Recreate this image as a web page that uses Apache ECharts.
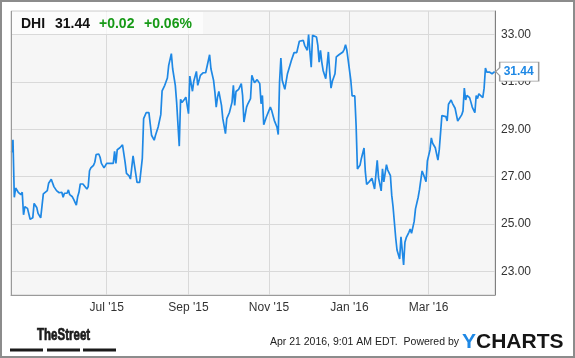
<!DOCTYPE html>
<html>
<head>
<meta charset="utf-8">
<script src="https://cdn.jsdelivr.net/npm/echarts@6/dist/echarts.min.js"></script>
<style>
html,body{margin:0;padding:0;background:#fff;}
#chart{width:575px;height:358px;}
</style>
</head>
<body>
<div id="chart"></div>
<script>
// ---------- data ----------
const ticker = 'DHI';
const lastPrice = '31.44';
const changeAbs = '+0.02';
const changePct = '+0.06%';
const timestampText = 'Apr 21 2016, 9:01 AM EDT.  Powered by';

const dates = [
'2015-04-20','2015-04-21','2015-04-22','2015-04-23','2015-04-25','2015-04-26','2015-04-27','2015-04-28','2015-04-29','2015-04-30',
'2015-05-02','2015-05-03','2015-05-04','2015-05-06','2015-05-07','2015-05-09','2015-05-10','2015-05-11','2015-05-12','2015-05-14',
'2015-05-15','2015-05-17','2015-05-18','2015-05-20','2015-05-21','2015-05-22','2015-05-24','2015-05-26','2015-05-27','2015-05-28',
'2015-05-29','2015-05-30','2015-05-31','2015-06-01','2015-06-02','2015-06-03','2015-06-05','2015-06-06','2015-06-08','2015-06-09',
'2015-06-10','2015-06-11','2015-06-13','2015-06-14','2015-06-16','2015-06-17','2015-06-18','2015-06-19','2015-06-21','2015-06-22',
'2015-06-23','2015-06-24','2015-06-25','2015-06-26','2015-06-27','2015-06-29','2015-06-30','2015-07-01','2015-07-03','2015-07-06',
'2015-07-07','2015-07-08','2015-07-09','2015-07-11','2015-07-12','2015-07-13','2015-07-15','2015-07-16','2015-07-18','2015-07-19',
'2015-07-20','2015-07-21','2015-07-22','2015-07-24','2015-07-26','2015-07-28','2015-07-29','2015-07-31','2015-08-02','2015-08-04',
'2015-08-06','2015-08-07','2015-08-09','2015-08-11','2015-08-12','2015-08-13','2015-08-14','2015-08-16','2015-08-17','2015-08-19',
'2015-08-20','2015-08-22','2015-08-23','2015-08-25','2015-08-26','2015-08-27','2015-08-29','2015-08-30','2015-09-01','2015-09-02',
'2015-09-04','2015-09-05','2015-09-07','2015-09-08','2015-09-09','2015-09-10','2015-09-12','2015-09-14','2015-09-15','2015-09-17',
'2015-09-18','2015-09-20','2015-09-21','2015-09-22','2015-09-23','2015-09-24','2015-09-26','2015-09-27','2015-09-29','2015-09-30',
'2015-10-02','2015-10-04','2015-10-05','2015-10-06','2015-10-07','2015-10-09','2015-10-11','2015-10-12','2015-10-13','2015-10-15',
'2015-10-16','2015-10-18','2015-10-19','2015-10-20','2015-10-21','2015-10-23','2015-10-25','2015-10-26','2015-10-27','2015-10-28',
'2015-10-30','2015-11-02','2015-11-03','2015-11-05','2015-11-06','2015-11-07','2015-11-08','2015-11-09','2015-11-10','2015-11-11',
'2015-11-13','2015-11-14','2015-11-15','2015-11-16','2015-11-18','2015-11-20','2015-11-22','2015-11-24','2015-11-25','2015-11-27',
'2015-11-28','2015-11-30','2015-12-01','2015-12-02','2015-12-03','2015-12-04','2015-12-05','2015-12-07','2015-12-08','2015-12-09',
'2015-12-10','2015-12-11','2015-12-12','2015-12-14','2015-12-15','2015-12-16','2015-12-17','2015-12-18','2015-12-19','2015-12-21',
'2015-12-22','2015-12-24','2015-12-27','2015-12-28','2015-12-29','2015-12-30','2015-12-31','2016-01-02','2016-01-03','2016-01-05',
'2016-01-06','2016-01-07','2016-01-09','2016-01-10','2016-01-12','2016-01-13','2016-01-14','2016-01-16','2016-01-18','2016-01-20',
'2016-01-22','2016-01-23','2016-01-25','2016-01-26','2016-01-27','2016-01-29','2016-01-30','2016-02-01','2016-02-02','2016-02-03',
'2016-02-04','2016-02-05','2016-02-06','2016-02-08','2016-02-09','2016-02-11','2016-02-12','2016-02-13','2016-02-15','2016-02-16',
'2016-02-17','2016-02-19','2016-02-20','2016-02-22','2016-02-23','2016-02-25','2016-02-26','2016-02-28','2016-02-29','2016-03-02',
'2016-03-03','2016-03-04','2016-03-06','2016-03-08','2016-03-09','2016-03-10','2016-03-11','2016-03-12','2016-03-14','2016-03-15',
'2016-03-16','2016-03-18','2016-03-19','2016-03-21','2016-03-23','2016-03-24','2016-03-26','2016-03-27','2016-03-28','2016-03-29',
'2016-03-30','2016-04-01','2016-04-02','2016-04-03','2016-04-05','2016-04-06','2016-04-07','2016-04-08','2016-04-09','2016-04-11',
'2016-04-12','2016-04-13','2016-04-14','2016-04-16','2016-04-17','2016-04-18','2016-04-20'
];

const prices = [
28.03,28.56,26.13,26.52,26.34,26.41,26.24,26.34,25.39,25.73,
25.66,25.59,25.20,25.26,25.87,25.70,25.45,25.39,25.26,26.27,
26.32,26.41,26.72,26.89,26.86,26.58,26.41,26.32,26.24,26.34,
26.13,26.30,26.38,26.30,26.44,26.24,26.15,26.04,25.80,26.15,
26.34,26.69,26.69,26.66,26.48,26.58,27.25,27.37,27.48,27.61,
27.93,27.90,27.96,27.82,27.56,27.37,27.31,27.56,27.56,27.56,
28.07,27.56,28.14,28.22,28.25,28.34,27.59,27.14,27.03,26.90,
26.86,27.88,27.50,26.76,26.76,27.77,29.45,29.71,29.71,28.75,
28.54,28.75,29.10,29.62,30.63,30.63,30.86,31.17,31.70,32.20,
31.56,30.86,30.15,28.29,30.27,30.13,30.27,30.36,29.66,31.25,
30.61,31.03,31.45,30.86,30.79,31.28,31.39,31.39,31.31,32.15,
31.56,31.07,30.57,29.94,30.36,30.60,30.01,29.45,28.82,29.45,
29.71,30.15,30.86,30.01,30.60,30.69,30.93,30.43,29.31,29.94,
30.08,30.30,31.28,31.35,30.97,31.10,30.93,30.08,30.43,29.19,
29.52,29.94,29.80,29.38,29.34,29.10,28.78,31.00,32.01,31.07,
30.69,31.03,31.35,31.31,31.92,32.24,32.24,32.72,32.76,32.76,
32.55,32.34,33.00,32.27,31.63,32.97,32.97,32.90,32.55,31.84,
32.34,31.84,31.49,31.14,31.70,32.27,31.42,30.74,31.03,31.35,
32.06,32.15,32.27,32.38,32.58,32.34,31.92,31.07,30.41,30.41,
29.17,27.32,27.49,27.77,28.21,27.20,26.67,26.79,26.93,26.48,
27.69,26.95,26.40,27.33,26.78,27.51,27.28,27.04,26.22,25.73,
25.69,24.42,23.90,23.52,24.46,23.27,24.23,24.42,24.65,24.79,
24.61,25.11,25.64,26.12,26.44,27.24,27.10,26.79,27.66,28.13,
28.64,28.41,28.22,27.70,28.13,28.06,29.58,29.54,29.54,29.35,
30.06,30.24,30.10,29.89,29.35,29.44,29.61,29.78,30.74,30.24,
30.43,30.34,30.15,29.94,29.70,30.43,30.30,30.50,30.43,30.34,
30.74,31.59,31.42,31.42,31.42,31.35,31.44
];

const yTicks = [23, 25, 27, 29, 31, 33];
const xTickDates = ['2015-07-01', '2015-09-01', '2015-11-01', '2016-01-01', '2016-03-01'];
const xRange = ['2015-04-19T12:00', '2016-04-20T06:00'];
const monthNames = ['Jan','Feb','Mar','Apr','May','Jun','Jul','Aug','Sep','Oct','Nov','Dec'];

// ---------- chart ----------
function toTime(s) {
  const [datePart, timePart] = s.split('T');
  const [y, m, d] = datePart.split('-').map(Number);
  let hh = 0, mm = 0;
  if (timePart) { [hh, mm] = timePart.split(':').map(Number); }
  return new Date(y, m - 1, d, hh, mm).getTime();
}
const seriesData = dates.map((d, i) => [toTime(d), prices[i]]);
const xTicks = xTickDates.map(toTime);
const lastPoint = seriesData[seriesData.length - 1];
const FONT = '"Liberation Sans", Arial, sans-serif';

const chart = echarts.init(document.getElementById('chart'), null, {renderer: 'canvas'});

chart.setOption({
  animation: false,
  backgroundColor: '#ffffff',
  grid: {
    left: 11, right: 80, top: 11, bottom: 63,
    show: true, backgroundColor: '#f6f6f6', borderColor: '#cfcfcf', borderWidth: 1
  },
  xAxis: {
    type: 'value',
    min: toTime(xRange[0]),
    max: toTime(xRange[1]),
    axisLine: {show: true, onZero: false, lineStyle: {color: '#9a9a9a', width: 1}},
    axisTick: {show: false, customValues: xTicks},
    splitLine: {show: true, lineStyle: {color: '#d9d9d9', width: 1}},
    axisLabel: {
      customValues: xTicks,
      color: '#333', fontSize: 12, fontFamily: FONT, margin: 7,
      formatter: function (v) {
        const d = new Date(v);
        return monthNames[d.getMonth()] + " '" + String(d.getFullYear()).slice(2);
      }
    }
  },
  yAxis: {
    type: 'value',
    position: 'right',
    min: 22, max: 34,
    axisLine: {show: true, onZero: false, lineStyle: {color: '#808080', width: 1}},
    axisTick: {show: false, customValues: yTicks},
    splitLine: {show: true, lineStyle: {color: '#d9d9d9', width: 1}},
    axisLabel: {
      customValues: yTicks,
      color: '#333', fontSize: 12, fontFamily: FONT, margin: 6,
      formatter: function (v) { return Number(v).toFixed(2); }
    }
  },
  series: [{
    type: 'line',
    data: seriesData,
    showSymbol: false,
    lineStyle: {color: '#1e88e5', width: 1.7},
    itemStyle: {color: '#1e88e5'},
    markPoint: {
      silent: true,
      data: [{
        coord: lastPoint,
        symbol: 'path://M0,9.5L4,5.5L4,0L43,0L43,19L4,19L4,13.5Z',
        symbolSize: [43, 19],
        symbolOffset: [22.5, 0],
        itemStyle: {color: '#ffffff', borderColor: '#9a9a9a', borderWidth: 1},
        label: {
          show: true, position: 'inside', offset: [1.5, 0],
          formatter: lastPrice,
          color: '#1e88e5', fontSize: 12, fontWeight: 'bold', fontFamily: FONT
        }
      }]
    }
  }],
  graphic: [
    {type: 'line', shape: {x1: 11.5, y1: 11, x2: 11.5, y2: 295}, style: {stroke: '#9a9a9a', lineWidth: 1}, z: 90, silent: true},
    {type: 'rect', shape: {x: 12, y: 12, width: 191, height: 22}, style: {fill: 'rgba(255,255,255,0.7)'}, z: 80, silent: true},
    {type: 'text', x: 21, y: 24, z: 90, style: {text: ticker, font: 'bold 14px ' + FONT, fill: '#111', verticalAlign: 'middle'}},
    {type: 'text', x: 55, y: 24, z: 90, style: {text: lastPrice, font: 'bold 14px ' + FONT, fill: '#111', verticalAlign: 'middle'}},
    {type: 'text', x: 99, y: 24, z: 90, style: {text: changeAbs, font: 'bold 14px ' + FONT, fill: '#179a17', verticalAlign: 'middle'}},
    {type: 'text', x: 144, y: 24, z: 90, style: {text: changePct, font: 'bold 14px ' + FONT, fill: '#179a17', verticalAlign: 'middle'}},
    {type: 'text', x: 37, y: 335.5, scaleX: 0.72, z: 90, style: {text: 'TheStreet', font: 'bold 16px ' + FONT, fill: '#1a1a1a', stroke: '#1a1a1a', lineWidth: 0.7, verticalAlign: 'middle'}},
    {type: 'rect', shape: {x: 10, y: 348.5, width: 33, height: 3}, style: {fill: '#1a1a1a'}, z: 90},
    {type: 'rect', shape: {x: 47, y: 348.5, width: 33, height: 3}, style: {fill: '#1a1a1a'}, z: 90},
    {type: 'rect', shape: {x: 83, y: 348.5, width: 33, height: 3}, style: {fill: '#1a1a1a'}, z: 90},
    {type: 'text', x: 459, y: 342, z: 90, style: {text: timestampText, font: '10.5px ' + FONT, fill: '#222', align: 'right', verticalAlign: 'middle'}},
    {type: 'text', x: 462, y: 342, z: 90, style: {
      text: '{y|Y}{c|CHARTS}', verticalAlign: 'middle',
      rich: {
        y: {fontSize: 21, fontWeight: 'bold', fontFamily: FONT, fill: '#1e88e5'},
        c: {fontSize: 21, fontWeight: 'bold', fontFamily: FONT, fill: '#151515'}
      }
    }},
    {type: 'rect', shape: {x: 1, y: 1, width: 573, height: 356}, style: {fill: null, stroke: '#8c8c8c', lineWidth: 2}, z: 100, silent: true}
  ]
});
</script>
</body>
</html>
